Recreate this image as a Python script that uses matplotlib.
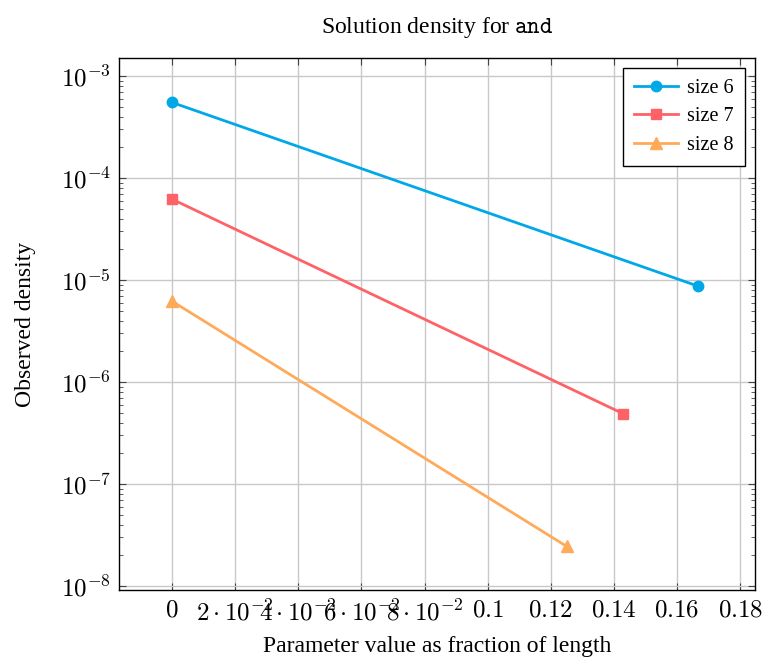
import numpy as np
import matplotlib
matplotlib.use('Agg')
import matplotlib.pyplot as plt
from matplotlib.ticker import LogLocator, FixedLocator, NullFormatter

plt.rcParams['mathtext.fontset'] = 'cm'
plt.rcParams['font.family'] = ['Liberation Serif', 'DejaVu Serif']

# data
x6 = [0, 1/6]
y6 = [5.5e-4, 8.7e-6]
x7 = [0, 1/7]
y7 = [6.2e-5, 4.9e-7]
x8 = [0, 1/8]
y8 = [6.2e-6, 2.45e-8]

xticks = [0, 0.02, 0.04, 0.06, 0.08, 0.1, 0.12, 0.14, 0.16, 0.18]
xticklabels = ['$0$', r'$2\cdot10^{-2}$', r'$4\cdot10^{-2}$', r'$6\cdot10^{-2}$',
               r'$8\cdot10^{-2}$', '$0.1$', '$0.12$', '$0.14$', '$0.16$', '$0.18$']
yticks = [1e-8, 1e-7, 1e-6, 1e-5, 1e-4, 1e-3]
yticklabels = [r'$10^{-8}$', r'$10^{-7}$', r'$10^{-6}$', r'$10^{-5}$', r'$10^{-4}$', r'$10^{-3}$']

fig = plt.figure(figsize=(7.7, 6.64), dpi=100)
ax = fig.add_axes([119/770, 1 - 590/664, (755-119)/770, (590-58)/664])

ax.plot(x6, y6, color='#00a8e8', lw=2, marker='o', ms=7.5, label='size 6')
ax.plot(x7, y7, color='#ff6266', lw=2, marker='s', ms=7.5, label='size 7')
ax.plot(x8, y8, color='#ffaa5a', lw=2, marker='^', ms=8.5, label='size 8')

ax.set_yscale('log')
ax.set_xlim(-0.0168, 0.1847)
ax.set_ylim(10**-8.039, 10**-2.824)

ax.xaxis.set_major_locator(FixedLocator(xticks))
ax.set_xticklabels(xticklabels)
ax.yaxis.set_major_locator(FixedLocator(yticks))
ax.set_yticklabels(yticklabels)
ax.yaxis.set_minor_locator(LogLocator(base=10, subs=np.arange(2, 10), numticks=20))
ax.yaxis.set_minor_formatter(NullFormatter())

ax.tick_params(which='both', direction='in', top=True, right=True, labelsize=18, color='#444444')
ax.tick_params(which='major', length=5, width=0.8)
ax.tick_params(which='minor', length=3, width=0.6)
ax.tick_params(axis='x', pad=7)
ax.tick_params(axis='y', pad=6)
ax.grid(True, which='major', color='#c8c8c8', lw=1)
ax.set_axisbelow(True)
for s in ax.spines.values():
    s.set_linewidth(1.0)

ax.set_title(r'Solution density for $\mathtt{and}$', fontsize=17, pad=18)
ax.set_xlabel('Parameter value as fraction of length', fontsize=17, labelpad=8)
ax.set_ylabel('Observed density', fontsize=17, labelpad=18)

leg = ax.legend(loc='upper right', fontsize=14.5, fancybox=False, edgecolor='black',
                framealpha=1, handlelength=2.2, handletextpad=0.45, borderpad=0.55,
                borderaxespad=0.5, labelspacing=0.45)
leg.get_frame().set_linewidth(1.0)

fig.savefig('out.png', dpi=100)
